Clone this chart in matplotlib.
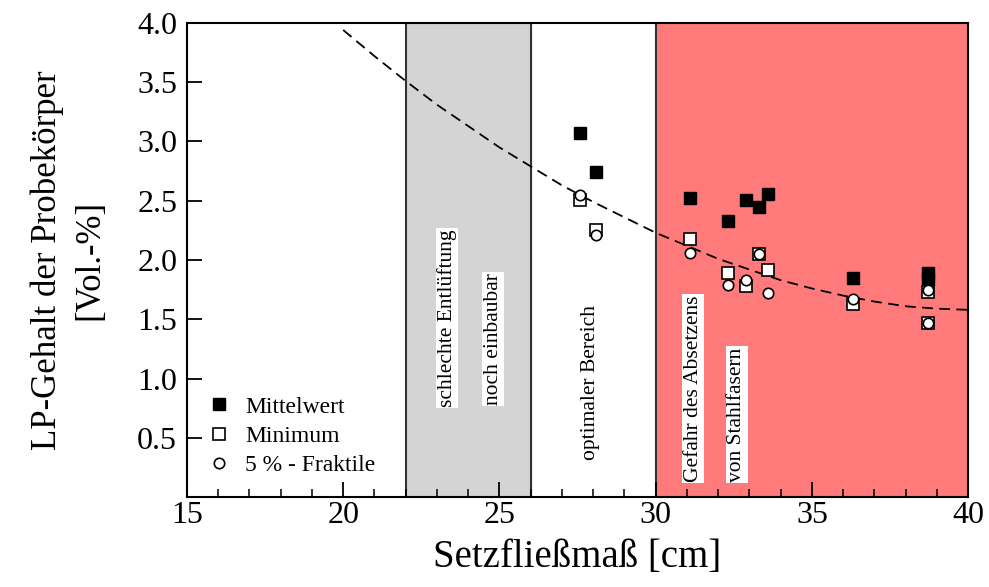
import numpy as np
import matplotlib.pyplot as plt
from matplotlib.ticker import MultipleLocator

plt.rcParams['font.family'] = ['Liberation Serif', 'DejaVu Serif']

# Setzfliessmass [cm] of the test series
setzfliess = [27.58, 28.09, 31.1, 32.3, 32.89, 33.3, 33.59, 36.3, 38.7, 38.7]
mittelwert = [3.07, 2.74, 2.52, 2.33, 2.51, 2.45, 2.56, 1.85, 1.89, 1.84]
minimum = [2.51, 2.25, 2.18, 1.89, 1.78, 2.05, 1.92, 1.63, 1.73, 1.47]
fraktile = [2.55, 2.21, 2.06, 1.79, 1.83, 2.05, 1.72, 1.67, 1.75, 1.47]

# dashed trend curve
trend_x = [20, 21, 22, 23, 24, 25, 26, 27, 28, 29, 30, 31, 32, 33, 34, 35, 36, 37, 38, 39, 40]
trend_y = [3.94, 3.72, 3.51, 3.31, 3.13, 2.95, 2.79, 2.63, 2.49, 2.36, 2.23, 2.12, 2.01, 1.92, 1.83, 1.76, 1.70, 1.65, 1.61, 1.59, 1.58]

fig = plt.figure(figsize=(9.89, 5.87), dpi=100)
ax = fig.add_axes([0.189, 0.153, 0.790, 0.808])

# regions
ax.axvspan(22, 26, color='#d4d4d4', zorder=0)
ax.axvspan(30, 40, color='#ff7b7b', zorder=0)
for xv in [22, 26, 30]:
    ax.axvline(xv, color='#333333', lw=1.5, zorder=1)

ax.plot(trend_x, trend_y, color='black', lw=1.3, dashes=(6, 3.5), zorder=2)

ax.plot(setzfliess, mittelwert, 's', color='black', ms=8.5, ls='none', zorder=3, label='Mittelwert')
ax.plot(setzfliess, minimum, 's', mfc='white', mec='black', mew=1.2, ms=9, ls='none', zorder=4, label='Minimum')
ax.plot(setzfliess, fraktile, 'o', mfc='white', mec='black', mew=1.2, ms=7.5, ls='none', zorder=5, label='5 % - Fraktile')

box = dict(facecolor='white', edgecolor='none', pad=1)
fs_region = 15.5
ax.text(23.32, 0.76, 'schlechte Entlüftung', rotation=90, ha='center', va='bottom', fontsize=fs_region, bbox=box)
ax.text(24.8, 0.78, 'noch einbaubar', rotation=90, ha='center', va='bottom', fontsize=fs_region, bbox=box)
ax.text(27.9, 0.31, 'optimaler Bereich', rotation=90, ha='center', va='bottom', fontsize=fs_region)
ax.text(31.2, 0.13, 'Gefahr des Absetzens', rotation=90, ha='center', va='bottom', fontsize=fs_region, bbox=box)
ax.text(32.6, 0.13, 'von Stahlfasern', rotation=90, ha='center', va='bottom', fontsize=fs_region, bbox=box)

ax.set_xlim(15, 40)
ax.set_ylim(0, 4.0)
ax.xaxis.set_major_locator(MultipleLocator(5))
ax.xaxis.set_minor_locator(MultipleLocator(1))
ax.set_yticks([0.5, 1.0, 1.5, 2.0, 2.5, 3.0, 3.5, 4.0])
ax.yaxis.set_major_formatter(plt.FormatStrFormatter('%.1f'))
ax.tick_params(which='major', direction='in', length=11, width=1.3, labelsize=23, pad=7)
ax.tick_params(which='minor', direction='in', length=6, width=1.1)
ax.tick_params(axis='x', pad=3)
for s in ax.spines.values():
    s.set_linewidth(1.5)

ax.set_xlabel('Setzfließmaß [cm]', fontsize=28, labelpad=6)
ax.set_ylabel('LP-Gehalt der Probekörper\n[Vol.-%]', fontsize=25, labelpad=22, linespacing=1.4)

ax.legend(loc='lower left', bbox_to_anchor=(0.005, 0.01), frameon=False, fontsize=17,
          handletextpad=0.6, labelspacing=0.32, handlelength=1.0, borderaxespad=0.3)

fig.savefig('out.png', dpi=100)
